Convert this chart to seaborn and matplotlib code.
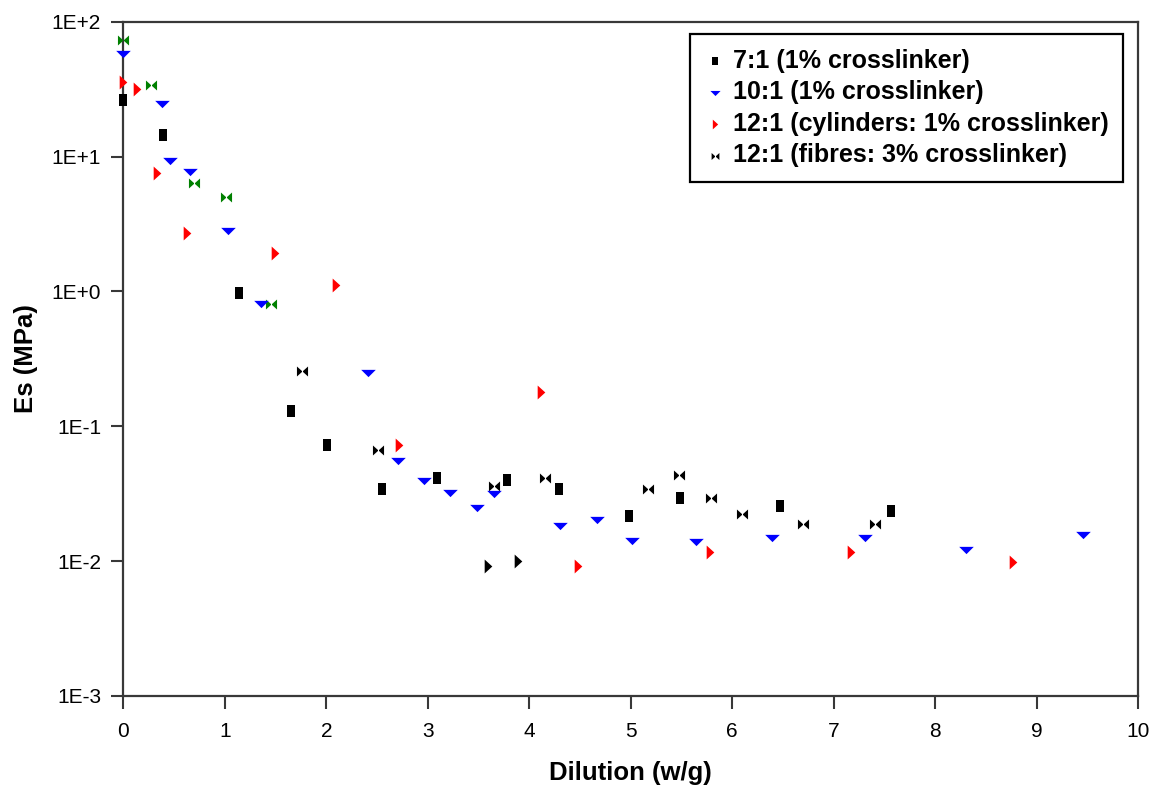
import matplotlib
matplotlib.use('Agg')
import matplotlib.pyplot as plt
from matplotlib.path import Path
from matplotlib.markers import MarkerStyle
from matplotlib.ticker import FixedLocator, FixedFormatter, NullLocator
import seaborn as sns

# Values (x: dilution w/g, y: Es in MPa)
x_71 = [0.0, 0.39, 1.14, 1.65, 2.01, 2.55, 3.09, 3.78, 4.29, 4.98, 5.49, 6.47, 7.57]
y_71 = [26.3, 14.5, 0.965, 0.129, 0.072, 0.034, 0.041, 0.040, 0.034, 0.0216, 0.0296, 0.0258, 0.0234]

x_101 = [0.0, 0.38, 0.46, 0.66, 1.03, 1.36, 2.41, 2.71, 2.96, 3.22, 3.49, 3.65, 4.30, 4.67,
         5.01, 5.64, 6.39, 7.31, 8.30, 9.46]
y_101 = [58.0, 24.6, 9.2, 7.7, 2.81, 0.81, 0.25, 0.0557, 0.0395, 0.032, 0.0246, 0.0315, 0.0183, 0.0202,
         0.0142, 0.0138, 0.0149, 0.0149, 0.0121, 0.0155]

x_cyl = [0.0, 0.13, 0.33, 0.63, 1.49, 2.10, 2.72, 4.12, 4.48, 5.78, 7.17, 8.77]
y_cyl = [35.4, 31.9, 7.5, 2.72, 1.93, 1.11, 0.072, 0.179, 0.0092, 0.0117, 0.0117, 0.0098]
# two cylinder points drawn in black in the original
x_cyl_b = [3.59, 3.89]
y_cyl_b = [0.0092, 0.00995]

# fibres: early points drawn in green, the rest in black
x_fib_g = [0.0, 0.27, 0.70, 1.01, 1.46]
y_fib_g = [72.6, 33.9, 6.4, 5.0, 0.81]
x_fib = [1.76, 2.51, 3.65, 4.16, 5.17, 5.48, 5.79, 6.10, 6.70, 7.41]
y_fib = [0.255, 0.067, 0.036, 0.041, 0.034, 0.0432, 0.0296, 0.0224, 0.0189, 0.0189]

labels = ['7:1 (1% crosslinker)', '10:1 (1% crosslinker)',
          '12:1 (cylinders: 1% crosslinker)', '12:1 (fibres: 3% crosslinker)']
y_ticks = [1e-3, 1e-2, 1e-1, 1e0, 1e1, 1e2]
y_ticklabels = ['1E-3', '1E-2', '1E-1', '1E+0', '1E+1', '1E+2']

sns.set_theme(style='ticks')
plt.rcParams['font.family'] = ['Liberation Sans', 'DejaVu Sans']
plt.rcParams.update({'text.color': 'black', 'axes.labelcolor': 'black',
                     'xtick.color': 'black', 'ytick.color': 'black'})

# marker shapes (slightly stretched like the original)
m_square = MarkerStyle([(-0.75, -1), (0.75, -1), (0.75, 1), (-0.75, 1), (-0.75, -1)])
m_down = MarkerStyle([(-1, 0.5), (1, 0.5), (0, -0.5), (-1, 0.5)])
m_right = MarkerStyle([(-0.55, 1), (0.55, 0), (-0.55, -1), (-0.55, 1)])
bow = Path([(-1, -0.9), (0, 0), (-1, 0.9), (-1, -0.9), (1, -0.9), (0, 0), (1, 0.9), (1, -0.9)],
           [Path.MOVETO, Path.LINETO, Path.LINETO, Path.CLOSEPOLY] * 2)
m_bow = MarkerStyle(bow)

fig = plt.figure(figsize=(11.57, 7.88), dpi=100)
ax = fig.add_axes([0.1066, 0.1168, 0.8770, 0.8557])

common = dict(ax=ax, clip_on=False, linewidth=0, zorder=3)
sns.scatterplot(x=x_fib_g, y=y_fib_g, marker=m_bow, s=64, color='#008000', **common)
sns.scatterplot(x=x_fib, y=y_fib, marker=m_bow, s=64, color='black', **common)
sns.scatterplot(x=x_cyl, y=y_cyl, marker=m_right, s=100, color='#ff0000', **common)
sns.scatterplot(x=x_cyl_b, y=y_cyl_b, marker=m_right, s=100, color='black', **common)
sns.scatterplot(x=x_101, y=y_101, marker=m_down, s=110, color='#0000ff', **common)
sns.scatterplot(x=x_71, y=y_71, marker=m_square, s=64, color='black', **common)

colls = ax.collections
handles = [colls[5], colls[4], colls[2], colls[1]]

ax.set_yscale('log')
ax.set_ylim(1e-3, 1e2)
ax.set_xlim(0, 10)
ax.set_xticks(range(0, 11))
ax.yaxis.set_major_locator(FixedLocator(y_ticks))
ax.yaxis.set_major_formatter(FixedFormatter(y_ticklabels))
ax.yaxis.set_minor_locator(NullLocator())

for sp in ax.spines.values():
    sp.set_visible(True)
    sp.set_color('#383838')
    sp.set_linewidth(1.6)
ax.tick_params(direction='out', length=9, width=1.5, color='#383838',
               labelsize=15, labelcolor='black')
ax.tick_params(axis='x', pad=10)
ax.tick_params(axis='y', pad=7)

ax.set_xlabel('Dilution (w/g)', fontsize=18.5, fontweight='bold', labelpad=14)
ax.set_ylabel('Es (MPa)', fontsize=18.5, fontweight='bold', labelpad=10)

leg = ax.legend(handles, labels, loc='upper left', bbox_to_anchor=(0.5585, 0.982),
                borderaxespad=0, prop={'weight': 'bold', 'size': 18},
                markerscale=0.7, handlelength=0.8, handletextpad=0.3,
                labelspacing=0.3, borderpad=0.6, fancybox=False, framealpha=1,
                edgecolor='black')
leg.get_frame().set_linewidth(1.6)

fig.savefig('out.png', dpi=100)
